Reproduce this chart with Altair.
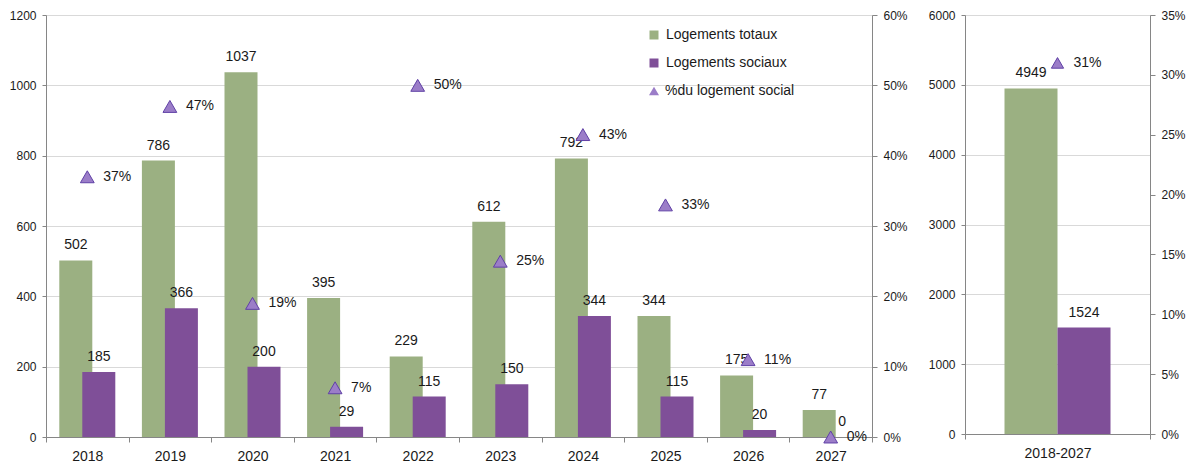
import altair as alt
import pandas as pd

# ---------------- data ----------------
annees = ["2018", "2019", "2020", "2021", "2022", "2023", "2024", "2025", "2026", "2027"]
logements_totaux = [502, 786, 1037, 395, 229, 612, 792, 344, 175, 77]
logements_sociaux = [185, 366, 200, 29, 115, 150, 344, 115, 20, 0]
part_social = [0.37, 0.47, 0.19, 0.07, 0.50, 0.25, 0.43, 0.33, 0.11, 0.0]

periode = ["2018-2027"]
total_totaux = [4949]
total_sociaux = [1524]
total_part = [0.31]

left_y_ticks = [0, 200, 400, 600, 800, 1000, 1200]
left_pct_ticks = [0, 0.1, 0.2, 0.3, 0.4, 0.5, 0.6]
right_y_ticks = [0, 1000, 2000, 3000, 4000, 5000, 6000]
right_pct_ticks = [0, 0.05, 0.1, 0.15, 0.2, 0.25, 0.3, 0.35]

series_names = ["Logements totaux", "Logements sociaux"]
pct_name = "%du logement social"

# ---------------- style ----------------
GREEN = "#9BB082"
PURPLE = "#7F4F98"
TRI_FILL = "#9B7DC8"
TRI_STROKE = "#6041A6"
AXIS_GRAY = "#868686"
GRID = "#D9D9D9"
TXT = "#1a1a1a"
FONT = "Liberation Sans"

df = pd.DataFrame({
    "annee": annees,
    "totaux": logements_totaux,
    "sociaux": logements_sociaux,
    "part": part_social,
})
df["part_lbl"] = [f"{round(p * 100)}%" for p in part_social]

dft = pd.DataFrame({
    "periode": periode,
    "totaux": total_totaux,
    "sociaux": total_sociaux,
    "part": total_part,
})
dft["part_lbl"] = [f"{round(p * 100)}%" for p in total_part]


def x_enc(field, order):
    return alt.X(
        f"{field}:N", title=None, sort=order,
        scale=alt.Scale(paddingInner=0, paddingOuter=0),
        axis=alt.Axis(labelAngle=0, tickBand="extent", tickSize=5, labelPadding=7,
                      labelFontSize=14, domainColor=AXIS_GRAY, tickColor=AXIS_GRAY,
                      labelColor=TXT, grid=False),
    )


def build_panel(data, xfield, order, ymax, yticks, pmax, pticks, width, height,
                bar_w, offset, tri_size, with_legend):
    xe = x_enc(xfield, order)
    yscale = alt.Scale(domain=[0, ymax], nice=False)
    yaxis = alt.Axis(values=yticks, format="d", title=None, grid=True, gridColor=GRID,
                     tickSize=4, labelPadding=6, domainColor=AXIS_GRAY,
                     tickColor=AXIS_GRAY, labelColor=TXT, labelFontSize=12)
    pscale = alt.Scale(domain=[0, pmax], nice=False)
    paxis = alt.Axis(orient="right", values=pticks, format=".0%", title=None, grid=False,
                     tickSize=5, labelPadding=6, domainColor=AXIS_GRAY,
                     tickColor=AXIS_GRAY, labelColor=TXT, labelFontSize=12)

    base = alt.Chart(data)

    if with_legend:
        cscale = alt.Scale(domain=series_names, range=[GREEN, PURPLE])
        clegend = alt.Legend(title=None, orient="none", legendX=601, legendY=13,
                             symbolType="square", symbolSize=81, symbolStrokeWidth=0,
                             labelFontSize=14, labelFont=FONT, labelColor=TXT,
                             rowPadding=14, padding=0, labelOffset=5)
        base_t = base.transform_calculate(serie=f"'{series_names[0]}'")
        base_s = base.transform_calculate(serie=f"'{series_names[1]}'")
        col = dict(color=alt.Color("serie:N", scale=cscale, legend=clegend))
        col_t = col
        col_s = col
    else:
        base_t = base
        base_s = base
        col_t = dict(color=alt.value(GREEN))
        col_s = dict(color=alt.value(PURPLE))

    bar_t = base_t.mark_bar(size=bar_w, xOffset=-offset).encode(
        x=xe, y=alt.Y("totaux:Q", scale=yscale, axis=yaxis), **col_t)
    bar_s = base_s.mark_bar(size=bar_w, xOffset=offset).encode(
        x=xe, y=alt.Y("sociaux:Q", scale=yscale, axis=yaxis), **col_s)
    lab_t = base.mark_text(xOffset=-offset, dy=-15, fontSize=14, font=FONT, color=TXT).encode(
        x=xe, y=alt.Y("totaux:Q", scale=yscale, axis=yaxis), text="totaux:Q")
    lab_s = base.mark_text(xOffset=offset, dy=-15, fontSize=14, font=FONT, color=TXT).encode(
        x=xe, y=alt.Y("sociaux:Q", scale=yscale, axis=yaxis), text="sociaux:Q")

    tri_enc = dict(x=xe, y=alt.Y("part:Q", scale=pscale, axis=paxis))
    base_p = base
    if with_legend:
        base_p = base.transform_calculate(indic=f"'{pct_name}'")
        tri_enc["shape"] = alt.Shape(
            "indic:N", scale=alt.Scale(domain=[pct_name], range=["triangle-up"]),
            legend=alt.Legend(title=None, orient="none", legendX=601, legendY=69,
                              symbolSize=100, symbolFillColor=TRI_FILL,
                              symbolStrokeColor=TRI_STROKE, symbolStrokeWidth=1,
                              labelFontSize=14, labelFont=FONT, labelColor=TXT,
                              padding=0, labelOffset=4))
    tri = base_p.mark_point(shape="triangle-up", filled=True, size=tri_size, fill=TRI_FILL,
                            stroke=TRI_STROKE, strokeWidth=1, opacity=1).encode(**tri_enc)
    tri_lab = base.mark_text(align="left", dx=16, fontSize=14, font=FONT, color=TXT).encode(
        x=xe, y=alt.Y("part:Q", scale=pscale, axis=paxis), text="part_lbl:N")

    left_layer = alt.layer(bar_t, bar_s, lab_t, lab_s)
    right_layer = alt.layer(tri, tri_lab)
    return alt.layer(left_layer, right_layer).resolve_scale(y="independent").properties(
        width=width, height=height)


left = build_panel(df, "annee", annees, 1200, left_y_ticks, 0.6, left_pct_ticks,
                   826, 422, 33, 11.5, 190, True)
right = build_panel(dft, "periode", periode, 6000, right_y_ticks, 0.35, right_pct_ticks,
                    185, 419, 53, 26.5, 150, False)

chart = alt.hconcat(left, right, spacing=19).resolve_scale(
    color="independent", shape="independent"
).properties(
    padding={"left": 0, "top": 0, "right": 0, "bottom": 0}
).configure_view(stroke=None).configure_axis(labelFont=FONT).configure(
    background="white")

chart.save("out.html", embed_options={"renderer": "svg", "actions": False})
